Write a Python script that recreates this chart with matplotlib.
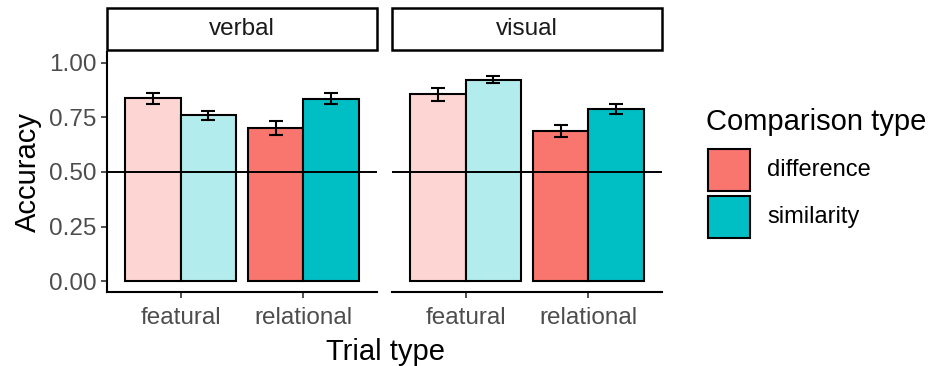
import numpy as np
import matplotlib
matplotlib.use("Agg")
import matplotlib.pyplot as plt
import matplotlib.patches as patches

plt.rcParams['font.family'] = ['Liberation Sans', 'DejaVu Sans']

# data
panels = ["verbal", "visual"]
trial_types = ["featural", "relational"]
comparison = ["difference", "similarity"]
# accuracy[panel][trial][comparison]
acc = {
    "verbal": {"featural": [0.838, 0.759], "relational": [0.700, 0.836]},
    "visual": {"featural": [0.857, 0.923], "relational": [0.688, 0.790]},
}
err = {
    "verbal": {"featural": [0.026, 0.020], "relational": [0.032, 0.026]},
    "visual": {"featural": [0.030, 0.016], "relational": [0.028, 0.023]},
}

base_cols = ["#F8766D", "#00BFC4"]
light_cols = ["#FDD6D3", "#B3ECED"]
grey = "#4D4D4D"

W, H = 933, 366
fig = plt.figure(figsize=(W / 100, H / 100), dpi=100)

def fx(px):
    return px / W

def fy(py):
    return 1 - py / H

panel_left = [107, 392]
panel_w = 270
top_px, bot_px = 52, 292
strip_top, strip_bot = 8, 50
bw = 0.45
lw = 1.5

for p, name in enumerate(panels):
    ax = fig.add_axes([fx(panel_left[p]), fy(bot_px), panel_w / W, (bot_px - top_px) / H])
    for t, tt in enumerate(trial_types):
        x0 = t + 1
        for c in range(2):
            xc = x0 - bw / 2 + c * bw
            col = light_cols[c] if tt == "featural" else base_cols[c]
            ax.bar(xc, acc[name][tt][c], width=bw, color=col, edgecolor="black", linewidth=lw, zorder=2)
            ax.errorbar(xc, acc[name][tt][c], yerr=err[name][tt][c], fmt="none", ecolor="black",
                        elinewidth=lw, capsize=4.8, capthick=lw, zorder=3)
    ax.axhline(0.5, color="black", linewidth=1.4, zorder=4)
    ax.set_xlim(0.4, 2.6)
    ax.set_ylim(-0.05, 1.05)
    ax.set_xticks([1, 2])
    ax.set_xticklabels(trial_types)
    ax.tick_params(axis="x", colors=grey, labelsize=17.5, length=4.5, width=1.2, pad=6)
    ax.tick_params(axis="x", color="#333333")
    for s in ["top", "right"]:
        ax.spines[s].set_visible(False)
    ax.spines["bottom"].set_linewidth(1.5)
    if p == 0:
        ax.set_yticks([0, 0.25, 0.5, 0.75, 1.0])
        ax.set_yticklabels(["0.00", "0.25", "0.50", "0.75", "1.00"])
        ax.tick_params(axis="y", colors=grey, labelsize=17.5, length=4.5, width=1.2, pad=3)
        ax.tick_params(axis="y", color="#333333")
        ax.spines["left"].set_linewidth(1.5)
        ax.set_ylabel("Accuracy", fontsize=21, labelpad=5)
    else:
        ax.spines["left"].set_visible(False)
        ax.set_yticks([])

    # strip label box
    fig.patches.append(patches.Rectangle((fx(panel_left[p]), fy(strip_bot)), panel_w / W,
                                         (strip_bot - strip_top) / H, transform=fig.transFigure,
                                         facecolor="white", edgecolor="black", linewidth=1.8))
    fig.text(fx(panel_left[p] + panel_w / 2), fy((strip_top + strip_bot) / 2), name,
             ha="center", va="center", fontsize=17.5, color="#1A1A1A")

fig.text(fx(385), fy(352), "Trial type", ha="center", va="center", fontsize=21)

# legend
fig.text(fx(706), fy(122), "Comparison type", ha="left", va="center", fontsize=21)
key_top = [149, 196]
for c, lab in enumerate(comparison):
    fig.patches.append(patches.Rectangle((fx(708), fy(key_top[c] + 42)), 42 / W, 42 / H,
                                         transform=fig.transFigure, facecolor=base_cols[c],
                                         edgecolor="black", linewidth=1.5))
    fig.text(fx(767), fy(key_top[c] + 21), lab, ha="left", va="center", fontsize=17)

fig.savefig("out.png", dpi=100)
